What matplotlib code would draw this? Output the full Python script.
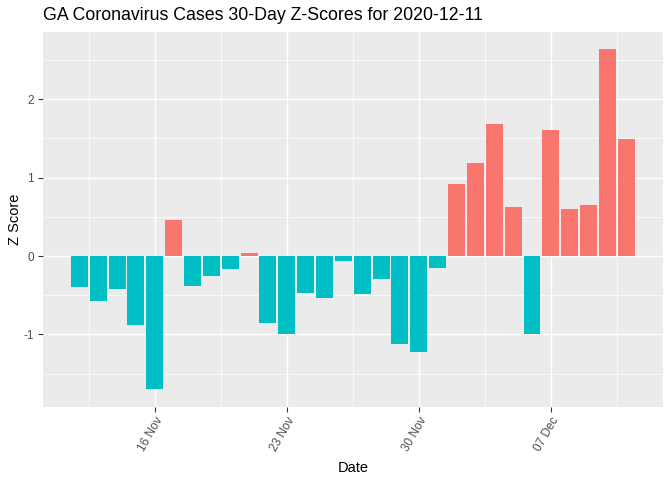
import numpy as np
import pandas as pd
import matplotlib
matplotlib.use("Agg")
import matplotlib.pyplot as plt
import matplotlib.dates as mdates
import matplotlib.transforms as mtransforms

plt.rcParams['font.family'] = ['Liberation Sans', 'DejaVu Sans']

# 30 days of z-scores, 2020-11-12 .. 2020-12-11
dates = pd.date_range('2020-11-12', '2020-12-11', freq='D')
z_scores = [-0.40, -0.57, -0.42, -0.88, -1.70, 0.46, -0.38, -0.26, -0.17, 0.04,
            -0.85, -1.00, -0.47, -0.53, -0.06, -0.49, -0.29, -1.12, -1.23, -0.15,
            0.92, 1.19, 1.69, 0.63, -1.00, 1.61, 0.60, 0.65, 2.64, 1.49]
tick_dates = pd.to_datetime(['2020-11-16', '2020-11-23', '2020-11-30', '2020-12-07'])
tick_labels = ['16 Nov', '23 Nov', '30 Nov', '07 Dec']
minor_dates = pd.to_datetime(['2020-11-12 12:00', '2020-11-19 12:00', '2020-11-26 12:00',
                              '2020-12-03 12:00', '2020-12-10 12:00'])

pos_col = '#F8766D'
neg_col = '#00BFC4'
colors = [pos_col if z > 0 else neg_col for z in z_scores]

fig = plt.figure(figsize=(7, 5), dpi=96)
ax = fig.add_axes([0.0635, 0.1527, 0.9231, 0.7806])
ax.set_facecolor('#EBEBEB')

x = mdates.date2num(dates)
ax.bar(x, z_scores, width=0.9, color=colors, zorder=3)

span = (x[-1] + 0.45) - (x[0] - 0.45)
ax.set_xlim(x[0] - 0.45 - 0.05 * span, x[-1] + 0.45 + 0.05 * span)
ax.set_ylim(-1.922, 2.857)

ax.set_xticks(mdates.date2num(tick_dates))
ax.set_xticklabels(tick_labels, rotation=60, ha='right', va='top',
                   rotation_mode='anchor', fontsize=8.8, color='#4D4D4D')
# nudge rotated labels a bit right, like ggplot's placement
offset = mtransforms.ScaledTranslation(4 / 96, -1 / 96, fig.dpi_scale_trans)
for lab in ax.get_xticklabels():
    lab.set_transform(lab.get_transform() + offset)
ax.set_xticks(mdates.date2num(minor_dates), minor=True)
ax.set_yticks([-1, 0, 1, 2])
ax.set_yticklabels(['-1', '0', '1', '2'], fontsize=8.8, color='#4D4D4D')
ax.set_yticks([-1.5, -0.5, 0.5, 1.5, 2.5], minor=True)

ax.grid(which='major', color='white', linewidth=1.1, zorder=1)
ax.grid(which='minor', color='white', linewidth=0.55, zorder=1)
ax.set_axisbelow(True)
ax.tick_params(which='major', length=3.5, width=0.8, color='#333333', pad=3)
ax.tick_params(which='minor', length=0)
for s in ax.spines.values():
    s.set_visible(False)

ax.set_xlabel('Date', fontsize=11, labelpad=5)
ax.set_ylabel('Z Score', fontsize=11, labelpad=1.5)
fig.text(43 / 672, 1 - 16 / 480, 'GA Coronavirus Cases 30-Day Z-Scores for 2020-12-11',
         fontsize=13.3, ha='left', va='center')

fig.savefig('out.png', dpi=96)
